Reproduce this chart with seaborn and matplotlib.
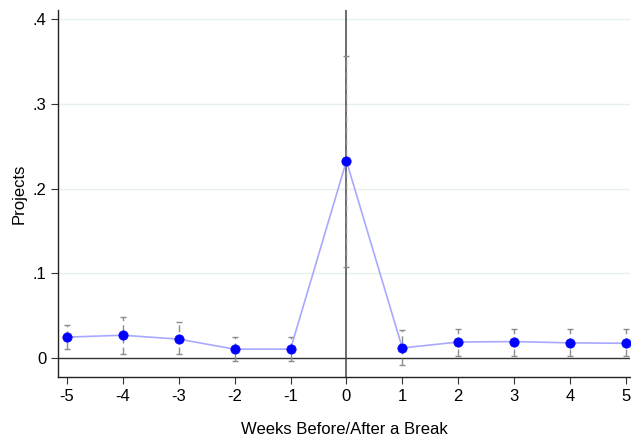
import seaborn as sns
import matplotlib.pyplot as plt
import pandas as pd

weeks = [-5, -4, -3, -2, -1, 0, 1, 2, 3, 4, 5]
projects = [0.0248, 0.027, 0.0224, 0.0106, 0.0106, 0.2326, 0.012, 0.019, 0.0195, 0.018, 0.0175]
ci_low = [0.0106, 0.0047, 0.005, -0.0035, -0.0035, 0.107, -0.008, 0.002, 0.002, 0.002, 0.002]
ci_high = [0.039, 0.048, 0.0425, 0.025, 0.025, 0.357, 0.033, 0.034, 0.034, 0.034, 0.034]

df = pd.DataFrame({'week': weeks, 'proj': projects, 'lo': ci_low, 'hi': ci_high})

sns.set_style('white')
plt.rcParams['font.family'] = ['Liberation Sans', 'DejaVu Sans']
plt.rcParams['text.color'] = 'black'
plt.rcParams['axes.labelcolor'] = 'black'
plt.rcParams['xtick.color'] = 'black'
plt.rcParams['ytick.color'] = 'black'

fig = plt.figure(figsize=(6.31, 4.38), dpi=100)
ax = fig.add_axes([0.092, 0.139, 0.906, 0.838])

# grid lines
for g in [0.1, 0.2, 0.3, 0.4]:
    ax.axhline(g, color='#e6f0ee', lw=1, zorder=0)

ax.axhline(0, color='#333333', lw=1, zorder=1)
ax.axvline(0, color='#444444', lw=1.1, zorder=1)

# confidence intervals (dashed range caps)
ax.errorbar(df['week'], df['proj'],
            yerr=[df['proj'] - df['lo'], df['hi'] - df['proj']],
            fmt='none', ecolor='#8c8c8c', elinewidth=1, capsize=2.5, capthick=1,
            zorder=2)
for c in ax.containers:
    for coll in c.lines[2]:
        coll.set_linestyle((0, (5, 3)))

sns.lineplot(data=df, x='week', y='proj', color='#a8a8ff', lw=1.2, ax=ax, zorder=3)
sns.scatterplot(data=df, x='week', y='proj', color='#0000ff', s=45, edgecolor='#0000ff', ax=ax, zorder=4)

ax.set_xlim(-5.16, 5.07)
ax.set_ylim(-0.0224, 0.4106)
ax.set_xticks(weeks)
ax.set_xticklabels([str(w) for w in weeks])
ax.set_yticks([0, 0.1, 0.2, 0.3, 0.4])
ax.set_yticklabels(['0', '.1', '.2', '.3', '.4'])
ax.tick_params(axis='both', which='both', direction='out', length=5, width=0.8,
               color='#333333', labelsize=12, left=True, bottom=True)
ax.set_xlabel('Weeks Before/After a Break', fontsize=12, labelpad=13)
ax.set_ylabel('Projects', fontsize=12, labelpad=4)

sns.despine(ax=ax)
for s in ['left', 'bottom']:
    ax.spines[s].set_color('#222222')
    ax.spines[s].set_linewidth(1)

fig.savefig('out.png', dpi=100)
